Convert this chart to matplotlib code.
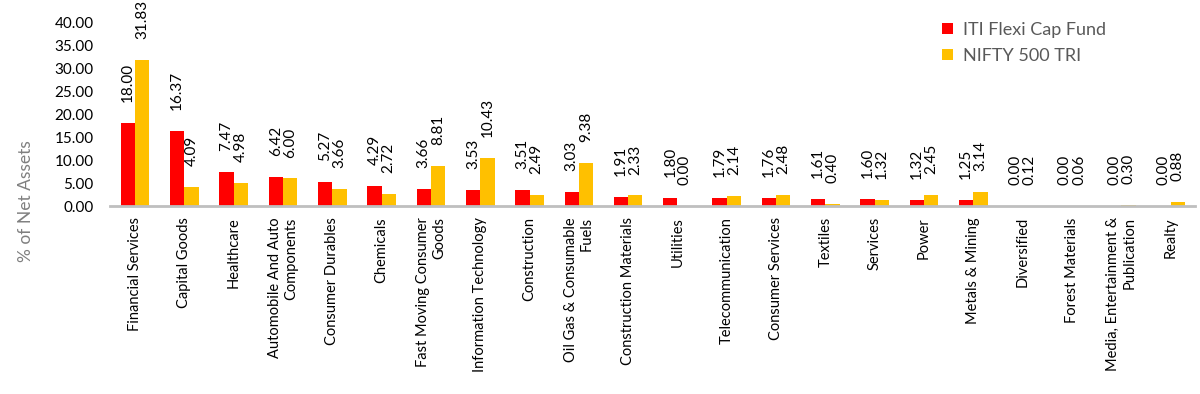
import matplotlib
matplotlib.use("Agg")
import matplotlib.pyplot as plt
import numpy as np

categories = [
    "Financial Services", "Capital Goods", "Healthcare",
    "Automobile And Auto\nComponents", "Consumer Durables", "Chemicals",
    "Fast Moving Consumer\nGoods", "Information Technology", "Construction",
    "Oil Gas & Consumable\nFuels", "Construction Materials", "Utilities",
    "Telecommunication", "Consumer Services", "Textiles", "Services",
    "Power", "Metals & Mining", "Diversified", "Forest Materials",
    "Media, Entertainment &\nPublication", "Realty",
]
fund = [18.00, 16.37, 7.47, 6.42, 5.27, 4.29, 3.66, 3.53, 3.51, 3.03, 1.91,
        1.80, 1.79, 1.76, 1.61, 1.60, 1.32, 1.25, 0.00, 0.00, 0.00, 0.00]
bench = [31.83, 4.09, 4.98, 6.00, 3.66, 2.72, 8.81, 10.43, 2.49, 9.38, 2.33,
         0.00, 2.14, 2.48, 0.40, 1.32, 2.45, 3.14, 0.12, 0.06, 0.30, 0.88]
yticks = [0, 5, 10, 15, 20, 25, 30, 35, 40]

plt.rcParams['font.family'] = ['Lato', 'DejaVu Sans']

fig = plt.figure(figsize=(12, 3.94), dpi=100)
ax = fig.add_axes([0.092, 0.477, 0.904, 0.467])

x = np.arange(len(categories))
w = 0.29
b1 = ax.bar(x - w / 2, fund, w, color="#FF0000", label="ITI Flexi Cap Fund")
b2 = ax.bar(x + w / 2, bench, w, color="#FFC000", label="NIFTY 500 TRI")

for bars, vals in ((b1, fund), (b2, bench)):
    for r, v in zip(bars, vals):
        ax.annotate(f"{v:.2f}", (r.get_x() + r.get_width() / 2, r.get_height()),
                    xytext=(0, 15), textcoords="offset points",
                    rotation=90, ha="center", va="bottom", fontsize=11,
                    color="black")

ax.set_xlim(-0.5, len(categories) - 0.5)
ax.set_ylim(0, 40)
ax.set_yticks(yticks)
ax.set_yticklabels([f"{t:.2f}" for t in yticks], fontsize=11)
ax.set_xticks(x)
ax.set_xticklabels(categories, rotation=90, fontsize=10.5, ha="center",
                   va="top", multialignment="right")
ax.tick_params(axis="x", length=0, pad=8)
ax.tick_params(axis="y", length=0, pad=12)
for s in ("top", "right", "left"):
    ax.spines[s].set_visible(False)
ax.spines["bottom"].set_color("#BFBFBF")
ax.spines["bottom"].set_linewidth(2)

fig.text(0.022, 0.49, "% of Net Assets", rotation=90, ha="center",
         va="center", fontsize=12.5, color="#808080")

leg = ax.legend(loc="upper left", bbox_to_anchor=(0.752, 1.09), frameon=False,
                fontsize=13, handlelength=0.6, handleheight=0.6,
                handletextpad=0.55, labelspacing=0.55)
for t in leg.get_texts():
    t.set_color("#595959")

fig.savefig("out.png", dpi=100)
